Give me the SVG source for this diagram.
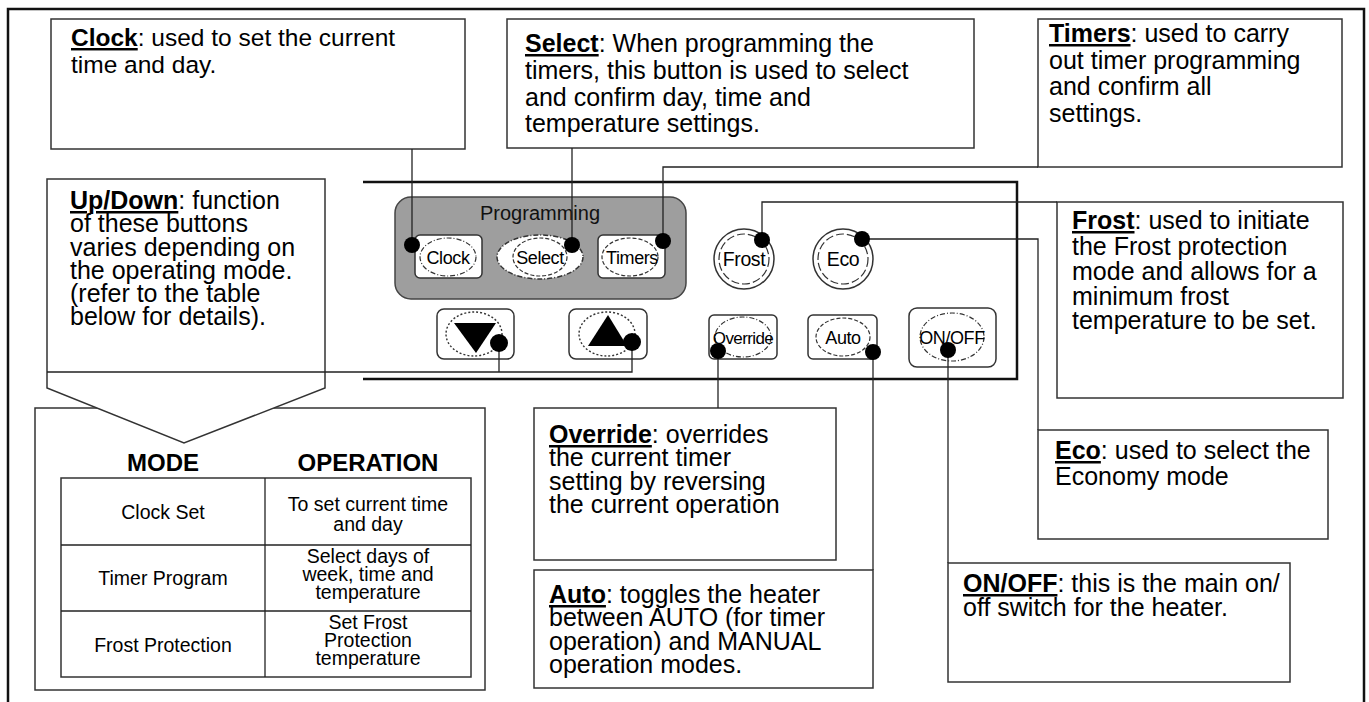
<svg xmlns="http://www.w3.org/2000/svg" width="1369" height="702" viewBox="0 0 1369 702">
<defs>
<style>
.box{fill:#fff;stroke:#333;stroke-width:1.5}
.t{font-family:'Liberation Sans',Arial,sans-serif;font-size:25px;fill:#000}
.k{font-weight:bold;text-decoration:underline}
.btn{fill:#fff;stroke:#333;stroke-width:1.5}
.dd{fill:none;stroke:#333;stroke-width:1.2;stroke-dasharray:5 2 1 2}
.ds{fill:none;stroke:#333;stroke-width:1.2;stroke-dasharray:4 2}
.dt{fill:none;stroke:#333;stroke-width:1.4;stroke-dasharray:2 2}
.dot{fill:#000}
.conn{fill:none;stroke:#222;stroke-width:1.3}
.thick{fill:none;stroke:#111;stroke-width:2.5}
.bl{font-family:'Liberation Sans',Arial,sans-serif;font-size:18px;letter-spacing:-0.4px;text-anchor:middle;fill:#000}
.tc{font-family:'Liberation Sans',Arial,sans-serif;font-size:19.5px;text-anchor:middle;fill:#000}
.th{font-family:'Liberation Sans',Arial,sans-serif;font-size:24px;font-weight:bold;text-anchor:middle;fill:#000}
</style>
</defs>
<rect width="1369" height="702" fill="#fff"/>
<g id="frame">
<polyline class="thick" points="8,702 8,9 1364,9 1364,702"/>
</g>
<g id="panel">
<polyline class="thick" points="363,182 1017,182 1017,379 363,379"/>
</g>
<g id="table">
<rect class="box" x="35" y="408" width="450" height="282"/>
<rect class="box" x="61" y="478" width="410" height="199"/>
<line class="conn" x1="265" y1="478" x2="265" y2="677"/>
<line class="conn" x1="61" y1="545" x2="471" y2="545"/>
<line class="conn" x1="61" y1="611" x2="471" y2="611"/>
<text class="th" x="163" y="471">MODE</text>
<text class="th" x="368" y="471">OPERATION</text>
<text class="tc" x="163" y="519">Clock Set</text>
<text class="tc" x="163" y="585">Timer Program</text>
<text class="tc" x="163" y="652">Frost Protection</text>
<text class="tc" x="368" y="511">To set current time</text>
<text class="tc" x="368" y="531">and day</text>
<text class="tc" x="368" y="563">Select days of</text>
<text class="tc" x="368" y="581">week, time and</text>
<text class="tc" x="368" y="599">temperature</text>
<text class="tc" x="368" y="629">Set Frost</text>
<text class="tc" x="368" y="647">Protection</text>
<text class="tc" x="368" y="665">temperature</text>
</g>
<g id="updown-note">
<polygon class="box" points="47,179 325,179 325,388 184,443 47,388"/>
<text class="t"><tspan x="70" y="209" class="k">Up/Down</tspan><tspan>: function</tspan><tspan x="70" y="232">of these buttons</tspan><tspan x="70" y="256">varies depending on</tspan><tspan x="70" y="279">the operating mode.</tspan><tspan x="70" y="302">(refer to the table</tspan><tspan x="70" y="325">below for details).</tspan></text>
</g>
<g id="clock-note">
<rect class="box" x="51" y="19" width="414" height="130"/>
<text class="t" style="font-size:24.5px"><tspan x="71" y="46" class="k">Clock</tspan><tspan>: used to set the current</tspan><tspan x="71" y="73">time and day.</tspan></text>
</g>
<g id="select-note">
<rect class="box" x="507" y="19" width="467" height="129"/>
<text class="t"><tspan x="525" y="52" class="k">Select</tspan><tspan>: When programming the</tspan><tspan x="525" y="79">timers, this button is used to select</tspan><tspan x="525" y="106">and confirm day, time and</tspan><tspan x="525" y="132">temperature settings.</tspan></text>
</g>
<g id="timers-note">
<rect class="box" x="1038" y="19" width="304" height="148"/>
<text class="t"><tspan x="1049" y="42" class="k">Timers</tspan><tspan>: used to carry</tspan><tspan x="1049" y="69">out timer programming</tspan><tspan x="1049" y="95">and confirm all</tspan><tspan x="1049" y="122">settings.</tspan></text>
</g>
<g id="frost-note">
<rect class="box" x="1057" y="202" width="286" height="196"/>
<text class="t"><tspan x="1072" y="229" class="k">Frost</tspan><tspan>: used to initiate</tspan><tspan x="1072" y="255">the Frost protection</tspan><tspan x="1072" y="280">mode and allows for a</tspan><tspan x="1072" y="305">minimum frost</tspan><tspan x="1072" y="329">temperature to be set.</tspan></text>
</g>
<g id="eco-note">
<rect class="box" x="1038" y="430" width="290" height="109"/>
<text class="t"><tspan x="1055" y="459" class="k">Eco</tspan><tspan>: used to select the</tspan><tspan x="1055" y="485">Economy mode</tspan></text>
</g>
<g id="override-note">
<rect class="box" x="534" y="408" width="302" height="152"/>
<text class="t"><tspan x="549" y="443" class="k">Override</tspan><tspan>: overrides</tspan><tspan x="549" y="466">the current timer</tspan><tspan x="549" y="490">setting by reversing</tspan><tspan x="549" y="513">the current operation</tspan></text>
</g>
<g id="auto-note">
<rect class="box" x="534" y="570" width="339" height="118"/>
<text class="t"><tspan x="549" y="603" class="k">Auto</tspan><tspan>: toggles the heater</tspan><tspan x="549" y="626">between AUTO (for timer</tspan><tspan x="549" y="650">operation) and MANUAL</tspan><tspan x="549" y="673">operation modes.</tspan></text>
</g>
<g id="onoff-note">
<rect class="box" x="948" y="563" width="342" height="119"/>
<text class="t"><tspan x="963" y="592" class="k">ON/OFF</tspan><tspan>: this is the main on/</tspan><tspan x="963" y="616">off switch for the heater.</tspan></text>
</g>
<g id="programming">
<rect x="395" y="197" width="291" height="102" rx="16" fill="#9e9e9e" stroke="#444" stroke-width="1.5"/>
<text x="540" y="220" font-family="'Liberation Sans',Arial,sans-serif" font-size="20" text-anchor="middle" fill="#111">Programming</text>
</g>
<g id="btn-clock">
<rect class="btn" x="415" y="235" width="67" height="43" rx="5"/>
<ellipse class="dd" cx="448" cy="257" rx="28" ry="19"/>
<text class="bl" x="448" y="264">Clock</text>
</g>
<g id="btn-select">
<ellipse class="btn" cx="540" cy="257" rx="43" ry="22" style="stroke-dasharray:5 2 1 2"/>
<ellipse class="ds" cx="540" cy="257" rx="27" ry="19"/>
<text class="bl" x="540" y="264">Select</text>
</g>
<g id="btn-timers">
<rect class="btn" x="598" y="235" width="67" height="43" rx="5"/>
<ellipse class="ds" cx="630" cy="257" rx="28" ry="19"/>
<text class="bl" x="632" y="264">Timers</text>
</g>
<g id="btn-frost">
<circle class="btn" cx="744" cy="259" r="30"/>
<circle class="ds" cx="744" cy="259" r="25" style="stroke-dasharray:8 3"/>
<text class="bl" x="744" y="266" style="font-size:19.5px">Frost</text>
</g>
<g id="btn-eco">
<circle class="btn" cx="843" cy="259" r="30"/>
<circle class="ds" cx="843" cy="259" r="25" style="stroke-dasharray:8 3"/>
<text class="bl" x="843" y="266" style="font-size:19.5px">Eco</text>
</g>
<g id="btn-down">
<rect class="btn" x="437" y="309" width="77" height="50" rx="7"/>
<ellipse class="dt" cx="474" cy="334" rx="28" ry="22"/>
<polygon fill="#000" points="454,323 496,323 476,353"/>
</g>
<g id="btn-up">
<rect class="btn" x="569" y="309" width="78" height="50" rx="7"/>
<ellipse class="dt" cx="607" cy="334" rx="28" ry="22"/>
<polygon fill="#000" points="588,346 627,346 608,315"/>
</g>
<g id="btn-override">
<rect class="btn" x="709" y="315" width="68" height="44" rx="5"/>
<ellipse class="dd" cx="743" cy="337" rx="28" ry="20"/>
<text class="bl" x="743" y="344" style="font-size:17px;letter-spacing:-0.6px">Override</text>
</g>
<g id="btn-auto">
<rect class="btn" x="808" y="315" width="69" height="44" rx="5"/>
<ellipse class="ds" cx="843" cy="337" rx="27" ry="19"/>
<text class="bl" x="843" y="344">Auto</text>
</g>
<g id="btn-onoff">
<rect class="btn" x="909" y="308" width="87" height="59" rx="8"/>
<ellipse class="dd" cx="952" cy="337" rx="32" ry="24"/>
<text class="bl" x="952" y="344">ON/OFF</text>
</g>
<g id="connectors">
<polyline class="conn" points="412,149 412,245"/>
<polyline class="conn" points="572,148 572,245"/>
<polyline class="conn" points="663,241 663,167 1038,167"/>
<polyline class="conn" points="762,240 762,202 1057,202"/>
<polyline class="conn" points="862,239 1038,239 1038,430"/>
<polyline class="conn" points="499,343 499,372"/>
<polyline class="conn" points="632,342 632,372 47,372"/>
<polyline class="conn" points="718,351 718,408"/>
<polyline class="conn" points="873,352 873,570"/>
<polyline class="conn" points="948,350 948,563"/>
<circle class="dot" cx="412" cy="245" r="8"/>
<circle class="dot" cx="572" cy="245" r="8"/>
<circle class="dot" cx="663" cy="241" r="8"/>
<circle class="dot" cx="762" cy="240" r="8"/>
<circle class="dot" cx="862" cy="239" r="8"/>
<circle class="dot" cx="499" cy="343" r="9"/>
<circle class="dot" cx="632" cy="342" r="9"/>
<circle class="dot" cx="718" cy="351" r="8"/>
<circle class="dot" cx="873" cy="352" r="8"/>
<circle class="dot" cx="948" cy="350" r="8"/>
</g>
</svg>
